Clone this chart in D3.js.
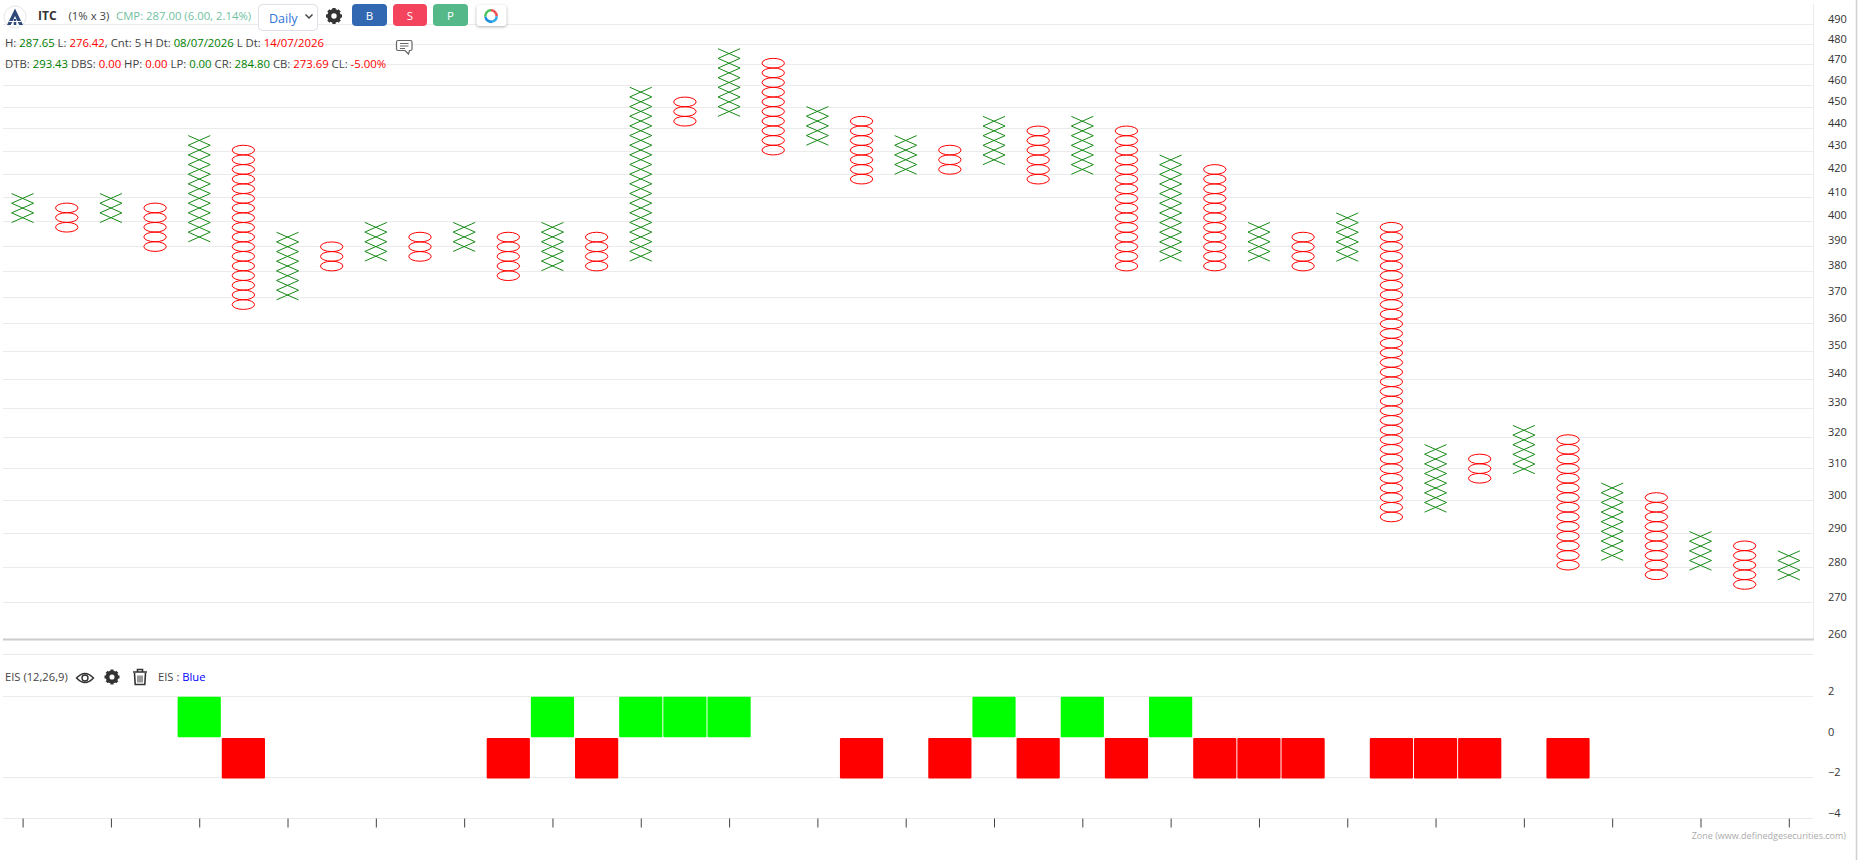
<!DOCTYPE html>
<html><head><meta charset="utf-8">
<script src="https://d3js.org/d3.v7.min.js"></script>
<style>
html,body{margin:0;padding:0;background:#fff;overflow:hidden}
svg{display:block}
text{font-family:"Open Sans",sans-serif}
</style></head><body>
<svg id="c" width="1861" height="860"></svg>
<script>
// P&F columns (1% x 3): type, top box price, number of boxes
const colType=["X","O","X","O","X","O","X","O","X","O","X","O","X","O","X","O","X","O","X","O","X","O","X","O","X","O","X","O","X","O","X","O","X","O","X","O","X","O","X","O","X"];
const colHigh=[409.4,405.4,409.4,405.4,434.6,430.3,393.4,389.5,397.4,393.4,397.4,393.4,397.4,393.4,456.8,452.2,475.3,470.6,447.8,443.3,434.6,430.3,443.3,438.9,443.3,438.9,426.0,421.8,397.4,393.4,401.3,397.4,316.1,313.0,322.4,319.3,303.8,300.8,289.0,286.2,283.3];
const colBoxes=[3,3,3,5,11,17,7,3,4,3,3,5,5,4,18,3,7,10,4,7,4,3,5,6,6,15,11,11,4,4,5,31,7,3,5,14,8,9,4,5,3];
const eisValues=[0,0,0,0,2,-2,0,0,0,0,0,-2,2,-2,2,2,2,0,0,-2,0,-2,2,-2,2,-2,2,-2,-2,-2,0,-2,-2,-2,0,-2,0,0,0,0,0];
const priceTicks=[260,270,280,290,300,310,320,330,340,350,360,370,380,390,400,410,420,430,440,450,460,470,480,490];
const eisTicks=[-4,-2,0,2];
const eisGridTicks=[-4,-2,2];
const boxPct=1.01;

const svg=d3.select("#c");
const L=3,R=1813;
const columns=d3.range(colType.length);
const x=d3.scalePoint().domain(columns).range([22.6,1788.8]);
const y=d3.scaleLog().domain([260,490]).range([639,24]);
const ey=d3.scaleLinear().domain([-4,2]).range([818,696.5]);

// frame lines
svg.append("line").attr("x1",R+.5).attr("x2",R+.5).attr("y1",4).attr("y2",640).attr("stroke","#ececec");
svg.append("line").attr("x1",1856.5).attr("x2",1856.5).attr("y1",0).attr("y2",860).attr("stroke","#d0d0d0").attr("stroke-width",1.5);

// gridlines
const grid=svg.append("g").attr("stroke","#ebebeb").attr("stroke-width",1);
priceTicks.filter(d=>d>260).forEach(t=>{const p=Math.round(y(t))+.5;
  grid.append("line").attr("x1",L).attr("x2",R).attr("y1",p).attr("y2",p);});
eisGridTicks.forEach(t=>{const p=Math.floor(ey(t))+.5;
  grid.append("line").attr("x1",L).attr("x2",R).attr("y1",p).attr("y2",p);});
grid.append("line").attr("x1",L).attr("x2",R).attr("y1",654.5).attr("y2",654.5);
svg.append("rect").attr("x",L).attr("y",638.5).attr("width",R-L+1).attr("height",2).attr("fill","#cccccc");

// price axis
const ay=svg.append("g").attr("transform","translate(1828,0)").call(d3.axisRight(y).tickValues(priceTicks).tickFormat(d3.format("d")).tickSize(0).tickPadding(0));
ay.select(".domain").remove();
ay.selectAll("text").attr("dy","-0.18em").attr("fill","#333").style("font-size","11px").style("font-family",'"Open Sans"');
// EIS axis
const ae=svg.append("g").attr("transform","translate(1828,0)").call(d3.axisRight(ey).tickValues(eisTicks).tickFormat(d3.format("d")).tickSize(0).tickPadding(0));
ae.select(".domain").remove();
ae.selectAll("text").attr("dy","-0.18em").attr("fill","#333").style("font-size","11px").style("font-family",'"Open Sans"');
// x ticks
const ax=svg.append("g").attr("transform","translate(0,818.5)").call(d3.axisBottom(x).tickValues(columns.filter(d=>d%2===0)).tickFormat("").tickSize(9));
ax.select(".domain").remove();
ax.selectAll("line").attr("stroke","#444");

// P&F marks
const hw=11;
const marks=svg.append("g");
columns.forEach(i=>{
  const cx=x(i);
  d3.range(colBoxes[i]).forEach(k=>{
    const price=colHigh[i]/Math.pow(boxPct,k);
    const top=y(price*Math.sqrt(boxPct)), bot=y(price/Math.sqrt(boxPct));
    if(colType[i]==="X"){
      const g=marks.append("g").attr("stroke","#178a17").attr("stroke-width",1);
      g.append("line").attr("x1",cx-hw).attr("x2",cx+hw).attr("y1",top).attr("y2",bot);
      g.append("line").attr("x1",cx-hw).attr("x2",cx+hw).attr("y1",bot).attr("y2",top);
    } else {
      marks.append("ellipse").attr("cx",cx).attr("cy",(top+bot)/2).attr("rx",11.2).attr("ry",(bot-top)/2)
        .attr("fill","none").attr("stroke","#ff0000").attr("stroke-width",1);
    }
  });
});

// EIS bars
svg.append("g").selectAll("rect").data(eisValues.map((v,i)=>({v,i})).filter(d=>d.v!==0)).join("rect")
  .attr("x",d=>x(d.i)-21.6).attr("width",43.2)
  .attr("y",d=>d.v>0?ey(d.v)+.2:ey(0)+1).attr("height",d=>Math.abs(ey(d.v)-ey(0)))
  .attr("rx",1).attr("fill",d=>d.v>0?"#00ff00":"#ff0000");

// header text helper
function line(xp,yp,parts,size){
  const t=svg.append("text").attr("x",xp).attr("y",yp).style("font-size",(size||11.33)+"px");
  parts.forEach(p=>t.append("tspan").attr("fill",p[1]).text(p[0]));
  return t;
}
const dk="#444",gr="#008000",rd="#ff0000";
// logo
const logo=svg.append("g").attr("transform","translate(15,17)");
logo.append("circle").attr("r",11).attr("fill","#fff").attr("stroke","#e3e6ea");
logo.append("path").attr("d","M0,-8.5 L8,8 H4.2 L0,-1 L-4.2,8 H-8 Z").attr("fill","#2f4a78");
logo.append("path").attr("d","M-1.3,2 H1.3 V8 H-1.3 Z").attr("fill","#2f4a78");
logo.append("path").attr("d","M-6,4.5 H6").attr("stroke","#fff").attr("stroke-width",1);

line(38,19.5,[["ITC","#333"]],12).style("font-weight",700);
line(68.5,19.5,[["(1% x 3)","#444"]]);
line(116,19.5,[["CMP: 287.00 (6.00, 2.14%)","#72bfa2"]]);
// select
svg.append("rect").attr("x",258.5).attr("y",4.5).attr("width",59).attr("height",26).attr("rx",4).attr("fill","#fff").attr("stroke","#dcdfe6");
line(269,23,[["Daily","#2f74d8"]],12.5);
svg.append("path").attr("d","M305.5,14.5 L309,18 L312.5,14.5").attr("fill","none").attr("stroke","#444").attr("stroke-width",1.5);
// gear helper
function gear(cx,cy,r){
  const g=svg.append("g").attr("transform",`translate(${cx},${cy})`);
  g.append("circle").attr("r",r*0.6).attr("fill","none").attr("stroke","#333").attr("stroke-width",r*0.52);
  d3.range(8).forEach(k=>g.append("rect").attr("x",-r*0.2).attr("y",-r).attr("width",r*0.4).attr("height",r*0.5)
    .attr("fill","#333").attr("transform",`rotate(${k*45})`));
}
gear(334,16,8);
[["B",352,35,"#3268b1"],["S",393,34,"#f3435d"],["P",433,35,"#55b888"]].forEach(b=>{
  svg.append("rect").attr("x",b[1]).attr("y",4).attr("width",b[2]).attr("height",22).attr("rx",4).attr("fill",b[3]);
  svg.append("text").attr("x",b[1]+b[2]/2).attr("y",19.5).attr("text-anchor","middle").attr("fill","#fff").style("font-size","11.5px").text(b[0]);
});
svg.append("rect").attr("x",476.5).attr("y",5).attr("width",30).attr("height",21).attr("rx",3).attr("fill","#fff").style("filter","drop-shadow(0 1px 1.5px rgba(0,0,0,.3))");
const ring=d3.arc().innerRadius(4.4).outerRadius(6.9);
[[0,1.6,"#f0524f"],[1.6,2.9,"#29a8e8"],[2.9,4.6,"#1f8fe0"],[4.6,6.283,"#4cc35c"]].forEach(s=>{
  svg.append("path").attr("transform","translate(491,16)").attr("fill",s[2]).attr("d",ring({startAngle:s[0],endAngle:s[1]}));
});
// comment icon
svg.append("path").attr("d","M398,40.5 H410.5 Q412,40.5 412,42 V49 Q412,50.5 410.5,50.5 H409.5 L408.5,54 L405,50.5 H398 Q396.5,50.5 396.5,49 V42 Q396.5,40.5 398,40.5 Z")
  .attr("fill","#fff").attr("stroke","#666").attr("stroke-width",1.2);
svg.append("path").attr("d","M400,43.5 H408.5 M400,46 H408.5 M400,48.5 H405").attr("stroke","#666").attr("stroke-width",1);

line(5,47,[["H: ",dk],["287.65",gr],[" L: ",dk],["276.42",rd],[", Cnt: 5 H Dt: ",dk],["08/07/2026",gr],[" L Dt: ",dk],["14/07/2026",rd]]);
line(5,68,[["DTB: ",dk],["293.43",gr],[" DBS: ",dk],["0.00",rd],[" HP: ",dk],["0.00",rd],[" LP: ",dk],["0.00",gr],[" CR: ",dk],["284.80",gr],[" CB: ",dk],["273.69",rd],[" CL: ",dk],["-5.00%",rd]]);

// EIS legend
line(5,681,[["EIS (12,26,9)",dk]],11.2);
const eye=svg.append("g").attr("transform","translate(85,678)").attr("fill","none").attr("stroke","#333").attr("stroke-width",1.4);
eye.append("path").attr("d","M-8.5,0 Q0,-9 8.5,0 Q0,9 -8.5,0 Z");
eye.append("circle").attr("r",3);
gear(112,677,7.5);
const tr=svg.append("g").attr("transform","translate(140,677)");
tr.append("path").attr("d","M-7,-5 H7 M-2.5,-5 V-7.5 H2.5 V-5").attr("stroke","#333").attr("stroke-width",1.6).attr("fill","none");
tr.append("path").attr("d","M-5.5,-4 L-4.8,7.5 H4.8 L5.5,-4").attr("fill","none").attr("stroke","#333").attr("stroke-width",1.6);
tr.append("path").attr("d","M-2,-1.5 V5.5 M0,-1.5 V5.5 M2,-1.5 V5.5").attr("stroke","#333").attr("stroke-width",1);
line(158,681,[["EIS : ",dk],["Blue","#0000ff"]],11.2);

// footer
svg.append("text").attr("x",1846).attr("y",838.5).attr("text-anchor","end").attr("fill","#aaa").style("font-size","9px").text("Zone (www.definedgesecurities.com)");
</script>
</body></html>
